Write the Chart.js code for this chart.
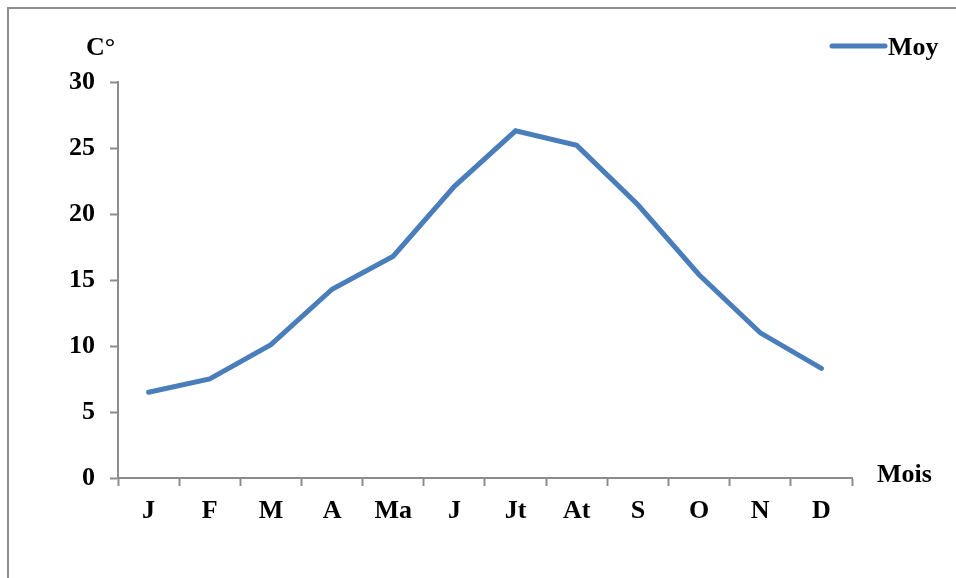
<!DOCTYPE html>
<html>
<head>
<meta charset="utf-8">
<script src="https://cdn.jsdelivr.net/npm/chart.js@4"></script>
<style>
  html, body { margin: 0; padding: 0; background: #fff; }
  #wrap { width: 956px; height: 578px; }
</style>
</head>
<body>
<div id="wrap"><canvas id="tempChart" width="956" height="578"></canvas></div>
<script>
// Monthly mean temperature (C°)
const months = ['J', 'F', 'M', 'A', 'Ma', 'J', 'Jt', 'At', 'S', 'O', 'N', 'D'];
const moyValues = [6.5, 7.5, 10.1, 14.3, 16.8, 22.1, 26.3, 25.2, 20.7, 15.4, 11.0, 8.3];
const yTicks = [0, 5, 10, 15, 20, 25, 30];

const FONT = '"Liberation Serif", "Times New Roman", serif';
const LINE_COLOR = '#4a7ebb';
const AXIS_COLOR = '#8c8c8c';

// Frame, axis titles and legend drawn around the plot
const decorPlugin = {
    id: 'decor',
    beforeDraw(chart) {
        const ctx = chart.ctx;
        ctx.save();
        ctx.fillStyle = '#fff';
        ctx.fillRect(0, 0, chart.width, chart.height);
        ctx.strokeStyle = AXIS_COLOR;
        ctx.lineWidth = 2;
        ctx.strokeRect(8, 8, 3000, 3000);
        ctx.restore();
    },
    afterDraw(chart) {
        const ctx = chart.ctx;
        const area = chart.chartArea;
        ctx.save();
        ctx.fillStyle = '#000';
        ctx.font = 'bold 26px ' + FONT;
        ctx.textBaseline = 'alphabetic';
        ctx.textAlign = 'left';
        ctx.fillText('C°', 86, 55);
        ctx.fillText('Mois', 877, area.bottom + 4);

        // legend
        const ds = chart.data.datasets[0];
        ctx.strokeStyle = ds.borderColor;
        ctx.lineWidth = 5;
        ctx.lineCap = 'round';
        ctx.beginPath();
        ctx.moveTo(832, 46);
        ctx.lineTo(885, 46);
        ctx.stroke();
        ctx.fillText(ds.label, 888, 55);
        ctx.restore();
    }
};

const ctx = document.getElementById('tempChart').getContext('2d');
new Chart(ctx, {
    type: 'line',
    data: {
        labels: months,
        datasets: [{
            label: 'Moy',
            data: moyValues,
            borderColor: LINE_COLOR,
            backgroundColor: LINE_COLOR,
            borderWidth: 5,
            borderCapStyle: 'round',
            pointRadius: 0,
            tension: 0,
            fill: false
        }]
    },
    options: {
        responsive: false,
        animation: false,
        layout: { padding: { left: 0, top: 82, right: 104, bottom: 0 } },
        plugins: {
            legend: { display: false },
            tooltip: { enabled: false }
        },
        scales: {
            x: {
                offset: true,
                grid: {
                    offset: true,
                    drawOnChartArea: false,
                    tickLength: 8,
                    tickWidth: 2,
                    color: AXIS_COLOR
                },
                border: { color: AXIS_COLOR, width: 2 },
                ticks: {
                    color: '#000',
                    padding: 10,
                    maxRotation: 0,
                    autoSkip: false,
                    font: { family: FONT, size: 26, weight: 'bold' }
                },
                afterFit(scale) { scale.height = 100; }
            },
            y: {
                min: 0,
                max: 30,
                afterBuildTicks(scale) { scale.ticks = yTicks.map(v => ({ value: v })); },
                grid: {
                    drawOnChartArea: false,
                    tickLength: 8,
                    tickWidth: 2,
                    color: AXIS_COLOR
                },
                border: { color: AXIS_COLOR, width: 2 },
                ticks: {
                    color: '#000',
                    padding: 15,
                    font: { family: FONT, size: 26, weight: 'bold' }
                },
                afterFit(scale) { scale.width = 118; }
            }
        }
    },
    plugins: [decorPlugin]
});
</script>
</body>
</html>
